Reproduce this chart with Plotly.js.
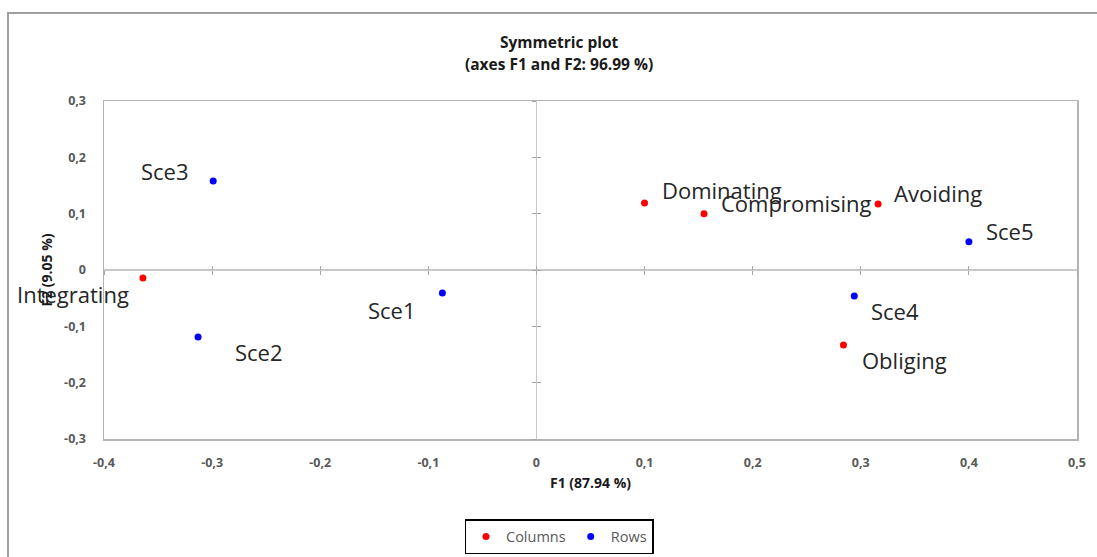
<!DOCTYPE html>
<html>
<head>
<meta charset="utf-8">
<script src="https://cdn.plot.ly/plotly-3.0.1.min.js"></script>
<style>html,body{margin:0;padding:0;background:#fff;}#chart{width:1097px;height:557px;}</style>
</head>
<body>
<div id="chart"></div>
<script>
// ---- data ----
var colLabels = ["Integrating", "Dominating", "Compromising", "Avoiding", "Obliging"];
var colF1 = [-0.364, 0.100, 0.155, 0.316, 0.284];
var colF2 = [-0.014, 0.119, 0.100, 0.117, -0.133];

var rowLabels = ["Sce1", "Sce2", "Sce3", "Sce4", "Sce5"];
var rowF1 = [-0.087, -0.313, -0.299, 0.294, 0.400];
var rowF2 = [-0.041, -0.119, 0.158, -0.046, 0.050];

var xTickVals = [-0.4, -0.3, -0.2, -0.1, 0, 0.1, 0.2, 0.3, 0.4, 0.5];
var xTickText = ["-0,4", "-0,3", "-0,2", "-0,1", "0", "0,1", "0,2", "0,3", "0,4", "0,5"];
var yTickVals = [-0.3, -0.2, -0.1, 0, 0.1, 0.2, 0.3];
var yTickText = ["-0,3", "-0,2", "-0,1", "0", "0,1", "0,2", "0,3"];

// ---- label placement (pixels) ----
var colPlace = [
  {xa: "right", dx: -12, dy: -16},
  {xa: "left", dx: 15, dy: 13},
  {xa: "left", dx: 15, dy: 11},
  {xa: "left", dx: 14, dy: 11},
  {xa: "left", dx: 17, dy: -15}
];
var rowPlace = [
  {xa: "right", dx: -24, dy: -17},
  {xa: "left", dx: 35, dy: -15},
  {xa: "right", dx: -22, dy: 10},
  {xa: "left", dx: 15, dy: -15},
  {xa: "left", dx: 15, dy: 11}
];

var xr = [-0.4, 0.5], yr = [-0.3, 0.3];
var FONT = "Open Sans, sans-serif";
var GRAY = "#595959";

var traces = [
  {x: colF1, y: colF2, type: "scatter", mode: "markers", name: "Columns",
   marker: {color: "#ff0000", size: 7}, hoverinfo: "skip"},
  {x: rowF1, y: rowF2, type: "scatter", mode: "markers", name: "Rows",
   marker: {color: "#0000ff", size: 7}, hoverinfo: "skip"},
  {x: [], y: [], xaxis: "x2", yaxis: "y", showlegend: false},
  {x: [], y: [], xaxis: "x3", yaxis: "y", showlegend: false},
  {x: [], y: [], xaxis: "x", yaxis: "y2", showlegend: false},
  {x: [], y: [], xaxis: "x", yaxis: "y3", showlegend: false}
];

var annotations = [];
function addLabels(labels, xs, ys, place) {
  for (var i = 0; i < labels.length; i++) {
    annotations.push({
      x: xs[i], y: ys[i], xref: "x", yref: "y", text: labels[i], showarrow: false,
      xanchor: place[i].xa, yanchor: "middle", xshift: place[i].dx, yshift: place[i].dy,
      font: {family: FONT, size: 22, color: "#262626"}
    });
  }
}
addLabels(colLabels, colF1, colF2, colPlace);
addLabels(rowLabels, rowF1, rowF2, rowPlace);

// Title as two annotation lines placed in container pixels
annotations.push({
  xref: "paper", yref: "paper", x: (559 - 104) / 973, y: (439 - 42) / 338,
  xanchor: "center", yanchor: "middle", showarrow: false,
  text: "<b>Symmetric plot</b>", font: {family: FONT, size: 15.5, color: "#1a1a1a"}
});
annotations.push({
  xref: "paper", yref: "paper", x: (559 - 104) / 973, y: (439 - 64) / 338,
  xanchor: "center", yanchor: "middle", showarrow: false,
  text: "<b>(axes F1 and F2: 96.99 %)</b>", font: {family: FONT, size: 15.5, color: "#1a1a1a"}
});

var xZeroPos = (0 - xr[0]) / (xr[1] - xr[0]);
var yZeroPos = (0 - yr[0]) / (yr[1] - yr[0]);

function tickAxis(vals, range, dir, pos, ov) {
  return {overlaying: ov, anchor: "free", position: pos, range: range, tickmode: "array",
    tickvals: vals, ticktext: vals.map(function(){return "";}), ticks: dir, ticklen: 4,
    tickcolor: "#a6a6a6", tickwidth: 1, showline: false, showgrid: false, zeroline: false,
    showticklabels: false, fixedrange: true};
}

var layout = {
  width: 1097, height: 557,
  margin: {l: 104, r: 20, t: 101, b: 118, autoexpand: false},
  paper_bgcolor: "#ffffff", plot_bgcolor: "#ffffff",
  font: {family: FONT, color: GRAY},
  xaxis: {
    range: xr, tickmode: "array", tickvals: xTickVals, ticktext: xTickText,
    showgrid: false, zeroline: true, zerolinecolor: "#c8c8c8", zerolinewidth: 1.5,
    showline: true, mirror: true, linecolor: "#b4b4b4", linewidth: 1.5,
    ticks: "", ticklabelstandoff: 11,
    tickfont: {family: FONT, size: 12.5, color: GRAY, weight: "bold"},
    title: {text: "<b>F1 (87.94 %)</b>", standoff: 8, font: {family: FONT, size: 14, color: "#1a1a1a"}},
    fixedrange: true
  },
  yaxis: {
    range: yr, tickmode: "array", tickvals: yTickVals, ticktext: yTickText,
    showgrid: false, zeroline: true, zerolinecolor: "#c8c8c8", zerolinewidth: 1.5,
    showline: true, mirror: true, linecolor: "#b4b4b4", linewidth: 1.5,
    ticks: "", ticklabelstandoff: 14,
    tickfont: {family: FONT, size: 12.5, color: GRAY, weight: "bold"},
    title: {text: "<b>F2 (9.05 %)</b>", standoff: 8, font: {family: FONT, size: 14, color: "#1a1a1a"}},
    fixedrange: true
  },
  xaxis2: tickAxis(xTickVals, xr, "outside", yZeroPos, "x"),
  xaxis3: tickAxis(xTickVals, xr, "inside", yZeroPos, "x"),
  yaxis2: tickAxis(yTickVals, yr, "outside", xZeroPos, "y"),
  yaxis3: tickAxis(yTickVals, yr, "inside", xZeroPos, "y"),
  showlegend: true,
  legend: {
    orientation: "h", x: (559 - 104) / 973, xanchor: "center",
    y: (439 - 519) / 338, yanchor: "top",
    bordercolor: "#000000", borderwidth: 1.5, bgcolor: "#ffffff",
    font: {family: FONT, size: 14.5, color: GRAY},
    itemwidth: 30, tracegroupgap: 0
  },
  annotations: annotations,
  shapes: [{
    type: "rect", xref: "paper", yref: "paper", layer: "below",
    x0: (8 - 104) / 973, x1: (1110 - 104) / 973,
    y0: (439 - 570) / 338, y1: (439 - 13) / 338,
    line: {color: "#a0a0a0", width: 2}
  }]
};

Plotly.newPlot("chart", traces, layout, {displayModeBar: false, staticPlot: true});
</script>
</body>
</html>
